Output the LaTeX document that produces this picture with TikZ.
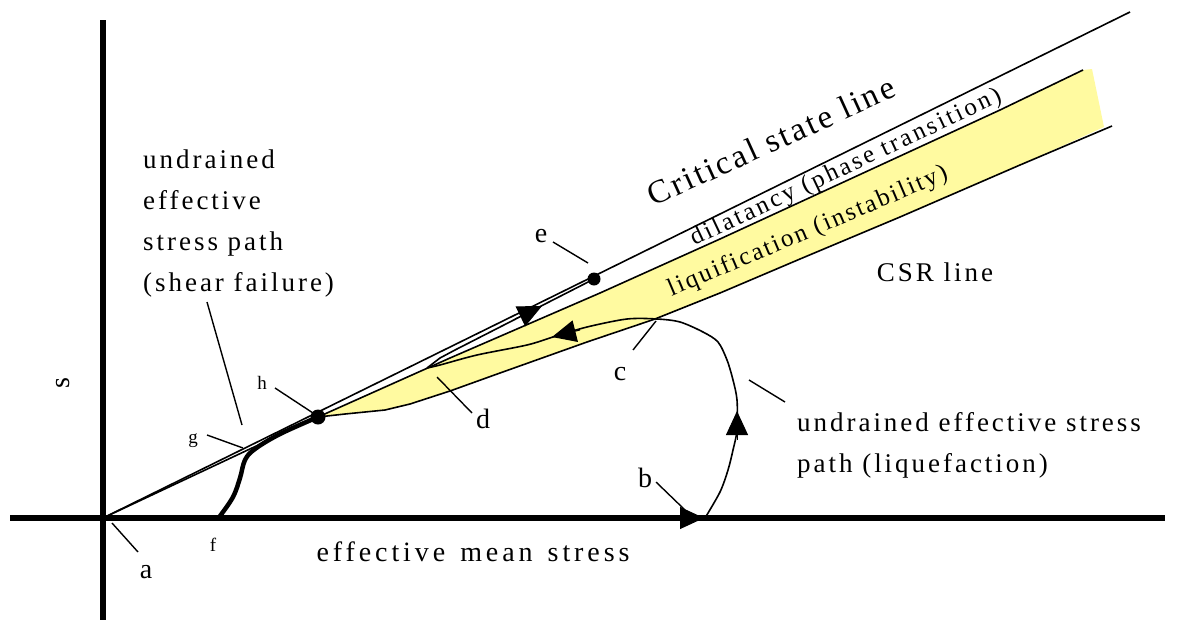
\documentclass[tikz,border=0pt]{standalone}
\usepackage{fontspec}
\setmainfont{Liberation Serif}[LetterSpace=11]
\newfontfamily\cslfont{Liberation Serif}[LetterSpace=8]
\newfontfamily\bandfont{Liberation Serif}[LetterSpace=9]
\newfontfamily\widefont{Liberation Serif}[LetterSpace=14]
\usetikzlibrary{arrows.meta}
\definecolor{band}{RGB}{255,250,160}
\tikzset{
  axis/.style={line width=6pt},
  thinline/.style={line width=1.6pt},
  leader/.style={line width=1.4pt},
  headtip/.style={-{Triangle[length=24pt,width=22pt]}, line width=1pt},
  txt/.style={inner sep=0pt, font=\fontsize{27}{41}\selectfont},
  lbl/.style={inner sep=0pt, font=\fontsize{28}{30}\selectfont},
  slbl/.style={inner sep=0pt, font=\fontsize{19}{21}\selectfont},
  dotmark/.style={circle, fill=black, inner sep=0pt}
}
\begin{document}
\begin{tikzpicture}[x=1pt,y=-1pt]
\useasboundingbox (0,0) rectangle (1199,624);
% key points
\coordinate (O) at (103,518);
\coordinate (cslend) at (1130,12);
\coordinate (H) at (318,417);
\coordinate (E) at (594,279);
\coordinate (D) at (427,368);
\coordinate (C) at (655,319);
\coordinate (B) at (705,518);
\coordinate (F) at (220,516);
% yellow band
\fill[band] (H) -- (450,358) -- (600,293) -- (720,239) -- (1000,110) -- (1083,70) -- (1092,69) -- (1104,127)
  -- (1020,165) -- (900,217) -- (800,259) -- (720,293) -- (C) -- (587,342) -- (500,373) -- (450,391) -- (410,404) -- (385,410) -- (345,414) -- cycle;
% axes
\draw[axis] (103,20) -- (103,620);
\draw[axis] (10,518) -- (1165,518);
% critical state line
\draw[thinline] (O) -- (cslend);
% phase transformation (dilatancy) line
\draw[thinline] (O) -- (H) -- (450,358) -- (600,293) -- (720,239) -- (1000,110) -- (1083,70);
% CSR line
\draw[thinline] (H) -- (345,414) -- (385,410) -- (410,404) -- (450,391) -- (500,373) -- (587,342) -- (C) -- (720,293) -- (800,259) -- (900,217) -- (1020,165) -- (1112,126);
% stress path b -> c -> d
\draw[thinline, line join=round] plot[smooth, tension=0.5] coordinates {(B) (720,492) (728,470) (733,450) (737,430) (737,400) (733,380) (727,360) (718,342) (703,332) (680,322) (657,319) (627,319) (587,327) (553,337) (527,345) (477,355) (440,365) (D)};
% stress path d -> e
\draw[thinline, line join=round] (D) -- (440,358) -- (455,350) -- (E);
% thick path f -> h
\draw[line width=4.5pt, line cap=round] plot[smooth, tension=0.6] coordinates {(F) (233,497) (240,478) (245,460) (255,449) (280,434) (H)};
% dots
\node[dotmark, minimum size=13pt] (edot) at (E) {};
\node[dotmark, minimum size=15pt] (hdot) at (H) {};
% arrowheads
\draw[headtip] (675,518) -- (704,518);
\draw[headtip] (737,440) -- (737,411);
\draw[headtip] (580,330) -- (552,337);
\draw[headtip] (515,319) -- (542,306);
% leaders
\draw[leader] (207,302) -- (242,425);
\draw[leader] (207,435) -- (243,448);
\draw[leader] (275,388) -- (313,413);
\draw[leader] (553,242) -- (588,263);
\draw[leader] (437,377) -- (472,413);
\draw[leader] (656,321) -- (633,350);
\draw[leader] (656,482) -- (685,510);
\draw[leader] (749,380) -- (785,402);
\draw[leader] (112,523) -- (138,552);
% labels
\node[lbl] (la) at (146,572) {a};
\node[lbl] (lb) at (645,478) {b};
\node[lbl] (lc) at (620,374) {c};
\node[lbl] (ld) at (483,419) {d};
\node[lbl] (le) at (541,236) {e};
\node[slbl] (lf) at (213,545) {f};
\node[slbl] (lg) at (193,441) {g};
\node[slbl] (lh) at (262,383) {h};
\node[lbl, rotate=90] (ls) at (63,383) {s};
% texts
\node[txt, anchor=west, align=left] (shear) at (143,224) {undrained\\effective\\stress path\\(shear failure)};
\node[txt, anchor=west, align=left] (liq) at (797,445) {undrained effective stress\\path (liquefaction)};
\node[txt, font=\widefont\fontsize{28}{30}\selectfont] (pmean) at (473,552) {\spaceskip=15pt\relax effective mean stress};
\node[txt] (csr) at (935,272) {CSR line};
\node[txt, font=\cslfont\fontsize{33}{35}\selectfont, rotate=24.5] (csl) at (771,141) {Critical state line};
\node[txt, font=\fontsize{25}{27}\selectfont, rotate=25.2] (dil) at (846,168) {dilatancy (phase transition)};
\node[txt, font=\bandfont\fontsize{25}{27}\selectfont, rotate=23] (liqf) at (808,232) {liquification (instability)};
\end{tikzpicture}
\end{document}
